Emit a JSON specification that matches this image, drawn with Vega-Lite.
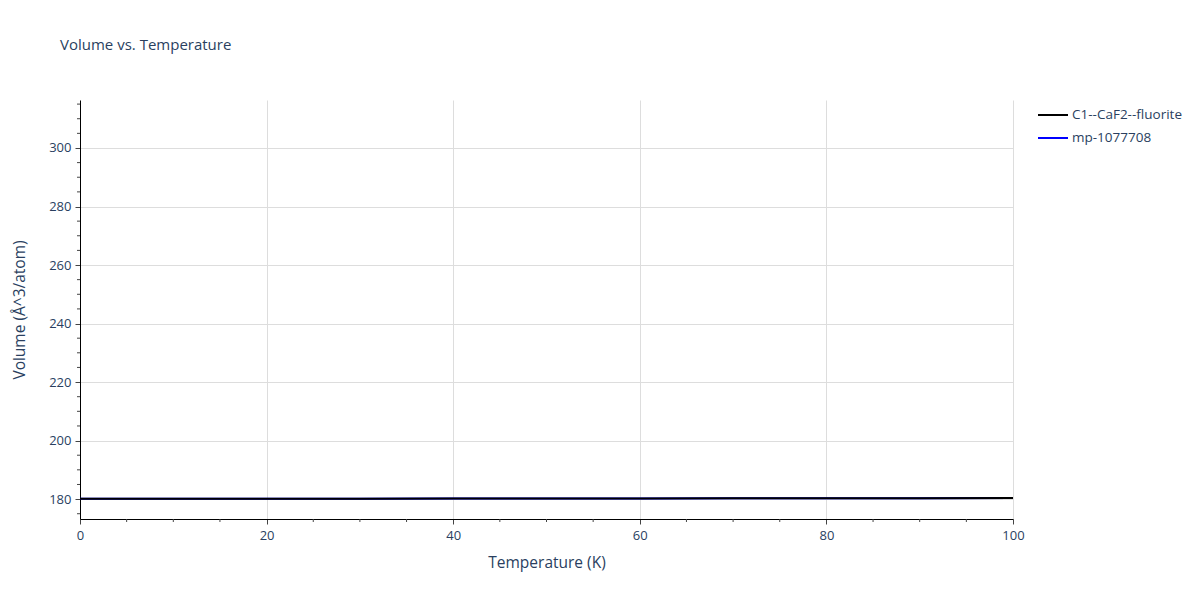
{
  "$schema": "https://vega.github.io/schema/vega-lite/v6.json",
  "width": 933,
  "height": 419,
  "autosize": {"type": "none"},
  "padding": {"left": 80, "top": 100, "right": 187, "bottom": 81},
  "background": "white",
  "config": {
    "font": "Open Sans",
    "view": {"stroke": null},
    "axis": {
      "labelFont": "Open Sans",
      "titleFont": "Open Sans",
      "labelColor": "#2a3f5f",
      "titleColor": "#2a3f5f",
      "labelFontSize": 13,
      "titleFontSize": 15.5,
      "titleFontWeight": "normal",
      "gridColor": "#dddddd",
      "gridWidth": 1,
      "domainColor": "black",
      "domainWidth": 1,
      "tickColor": "#444444",
      "tickSize": 5,
      "labelFlush": false
    }
  },
  "title": {
    "text": "Volume vs. Temperature",
    "anchor": "start",
    "frame": "group",
    "orient": "top",
    "dx": -20,
    "offset": 39,
    "baseline": "middle",
    "fontSize": 15,
    "font": "Open Sans",
    "fontWeight": "normal",
    "color": "#2a3f5f"
  },
  "datasets": {
    "lines": [
      {"T": 0, "V": 180.10, "series": "mp-1077708"},
      {"T": 10, "V": 180.12, "series": "mp-1077708"},
      {"T": 20, "V": 180.14, "series": "mp-1077708"},
      {"T": 30, "V": 180.16, "series": "mp-1077708"},
      {"T": 40, "V": 180.19, "series": "mp-1077708"},
      {"T": 50, "V": 180.21, "series": "mp-1077708"},
      {"T": 60, "V": 180.24, "series": "mp-1077708"},
      {"T": 70, "V": 180.27, "series": "mp-1077708"},
      {"T": 80, "V": 180.30, "series": "mp-1077708"},
      {"T": 90, "V": 180.33, "series": "mp-1077708"},
      {"T": 100, "V": 180.36, "series": "mp-1077708"},
      {"T": 0, "V": 180.10, "series": "C1--CaF2--fluorite"},
      {"T": 10, "V": 180.12, "series": "C1--CaF2--fluorite"},
      {"T": 20, "V": 180.14, "series": "C1--CaF2--fluorite"},
      {"T": 30, "V": 180.16, "series": "C1--CaF2--fluorite"},
      {"T": 40, "V": 180.19, "series": "C1--CaF2--fluorite"},
      {"T": 50, "V": 180.21, "series": "C1--CaF2--fluorite"},
      {"T": 60, "V": 180.24, "series": "C1--CaF2--fluorite"},
      {"T": 70, "V": 180.27, "series": "C1--CaF2--fluorite"},
      {"T": 80, "V": 180.30, "series": "C1--CaF2--fluorite"},
      {"T": 90, "V": 180.33, "series": "C1--CaF2--fluorite"},
      {"T": 100, "V": 180.36, "series": "C1--CaF2--fluorite"}
    ]
  },
  "data": {"name": "lines"},
  "layer": [
    {
      "mark": {"type": "rule", "color": "#444444", "strokeWidth": 1},
      "data": {"values": [{"t": 5}, {"t": 10}, {"t": 15}, {"t": 25}, {"t": 30}, {"t": 35}, {"t": 45}, {"t": 50}, {"t": 55}, {"t": 65}, {"t": 70}, {"t": 75}, {"t": 85}, {"t": 90}, {"t": 95}]},
      "encoding": {
        "x": {"field": "t", "type": "quantitative", "scale": {"domain": [0, 100]}},
        "y": {"value": 419},
        "y2": {"value": 422}
      }
    },
    {
      "mark": {"type": "rule", "color": "#444444", "strokeWidth": 1},
      "data": {"values": [{"v": 175}, {"v": 185}, {"v": 190}, {"v": 195}, {"v": 205}, {"v": 210}, {"v": 215}, {"v": 225}, {"v": 230}, {"v": 235}, {"v": 245}, {"v": 250}, {"v": 255}, {"v": 265}, {"v": 270}, {"v": 275}, {"v": 285}, {"v": 290}, {"v": 295}, {"v": 305}, {"v": 310}, {"v": 315}]},
      "encoding": {
        "y": {"field": "v", "type": "quantitative", "scale": {"domain": [173.2, 316.4]}},
        "x": {"value": -3},
        "x2": {"value": 0}
      }
    },
    {
      "transform": [{"filter": "datum.series == 'mp-1077708'"}],
      "mark": {"type": "line", "strokeWidth": 2, "clip": true},
      "encoding": {
        "x": {"field": "T", "type": "quantitative"},
        "y": {"field": "V", "type": "quantitative"},
        "color": {"field": "series", "type": "nominal"}
      }
    },
    {
      "transform": [{"filter": "datum.series == 'C1--CaF2--fluorite'"}],
      "mark": {"type": "line", "strokeWidth": 2, "clip": true},
      "encoding": {
        "x": {
          "field": "T",
          "type": "quantitative",
          "scale": {"domain": [0, 100], "nice": false, "zero": false},
          "axis": {
            "title": "Temperature (K)",
            "values": [0, 20, 40, 60, 80, 100],
            "labelPadding": 5,
            "titlePadding": 13
          }
        },
        "y": {
          "field": "V",
          "type": "quantitative",
          "scale": {"domain": [173.2, 316.4], "nice": false, "zero": false},
          "axis": {
            "title": "Volume (Å^3/atom)",
            "values": [180, 200, 220, 240, 260, 280, 300],
            "labelPadding": 4,
            "titlePadding": 21
          }
        },
        "color": {
          "field": "series",
          "type": "nominal",
          "scale": {"domain": ["C1--CaF2--fluorite", "mp-1077708"], "range": ["black", "blue"]},
          "legend": {
            "title": null,
            "orient": "none",
            "legendX": 957,
            "legendY": -1,
            "symbolType": "stroke",
            "symbolSize": 900,
            "symbolStrokeWidth": 2,
            "labelFont": "Open Sans",
            "labelFontSize": 13.5,
            "labelColor": "#2a3f5f",
            "rowPadding": -3,
            "labelOffset": 3
          }
        }
      }
    }
  ]
}
